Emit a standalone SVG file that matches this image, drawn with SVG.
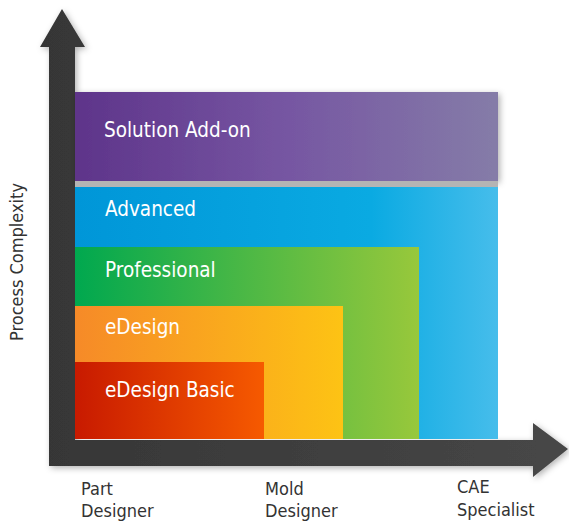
<svg xmlns="http://www.w3.org/2000/svg" width="569" height="523" viewBox="0 0 569 523">
<defs>
<linearGradient id="gPurple" x1="0" x2="1" y1="0" y2="0"><stop offset="0" stop-color="#5e348a"/><stop offset="0.5" stop-color="#7656a2"/><stop offset="1" stop-color="#857ca8"/></linearGradient>
<linearGradient id="gBlue" x1="0" x2="1" y1="0" y2="0"><stop offset="0" stop-color="#0096d8"/><stop offset="0.7" stop-color="#0aaae2"/><stop offset="1" stop-color="#46bdeb"/></linearGradient>
<linearGradient id="gGreen" x1="0" x2="1" y1="0" y2="0"><stop offset="0" stop-color="#00a84f"/><stop offset="1" stop-color="#98c83b"/></linearGradient>
<linearGradient id="gOrange" x1="0" x2="1" y1="0" y2="0"><stop offset="0" stop-color="#f68a28"/><stop offset="1" stop-color="#fdc314"/></linearGradient>
<linearGradient id="gRed" x1="0" x2="1" y1="0" y2="0"><stop offset="0" stop-color="#c81a00"/><stop offset="1" stop-color="#f65a00"/></linearGradient>
<linearGradient id="gAxis" x1="0" x2="1" y1="0" y2="0"><stop offset="0" stop-color="#363636"/><stop offset="1" stop-color="#474747"/></linearGradient>
<filter id="sh" x="-10%" y="-10%" width="120%" height="120%"><feDropShadow dx="2" dy="2" stdDeviation="3" flood-color="#000" flood-opacity="0.3"/></filter>
</defs>
<style>
.lbl{font-family:"DejaVu Sans Condensed","DejaVu Sans",sans-serif;font-stretch:condensed;font-size:20.5px;fill:#ffffff}
.ax{font-family:"DejaVu Sans Condensed","DejaVu Sans",sans-serif;font-stretch:condensed;font-size:18px;fill:#333333}
</style>
<rect width="569" height="523" fill="#ffffff"/>
<g id="connectors" filter="url(#sh)">
<path d="M49,466 L49,47 L40,47 L62,9 L85,47 L75,47 L75,440 L533,440 L533,423 L568,449 L533,477 L533,466 Z" fill="url(#gAxis)"/>
</g>
<g id="solution-addon">
<rect x="75" y="92" width="423" height="89" fill="url(#gPurple)" filter="url(#sh)"/>
<text class="lbl" x="104" y="137">Solution Add-on</text>
</g>
<rect x="75" y="181" width="423" height="6" fill="#b4b4b4"/>
<g id="advanced">
<rect x="75" y="187" width="423" height="252" fill="url(#gBlue)"/>
<text class="lbl" x="105" y="216">Advanced</text>
</g>
<g id="professional">
<rect x="75" y="247" width="344" height="192" fill="url(#gGreen)"/>
<text class="lbl" x="105" y="277">Professional</text>
</g>
<g id="edesign">
<rect x="75" y="306" width="268" height="133" fill="url(#gOrange)"/>
<text class="lbl" x="105" y="334">eDesign</text>
</g>
<g id="edesign-basic">
<rect x="75" y="362" width="189" height="77" fill="url(#gRed)"/>
<text class="lbl" x="105" y="397">eDesign Basic</text>
</g>
<g id="axis-labels">
<text class="ax" transform="translate(23,262) rotate(-90)" text-anchor="middle">Process Complexity</text>
<text class="ax" x="81" y="495">Part</text>
<text class="ax" x="81" y="517">Designer</text>
<text class="ax" x="265" y="495">Mold</text>
<text class="ax" x="265" y="517">Designer</text>
<text class="ax" x="457" y="493">CAE</text>
<text class="ax" x="457" y="516">Specialist</text>
</g>
</svg>
